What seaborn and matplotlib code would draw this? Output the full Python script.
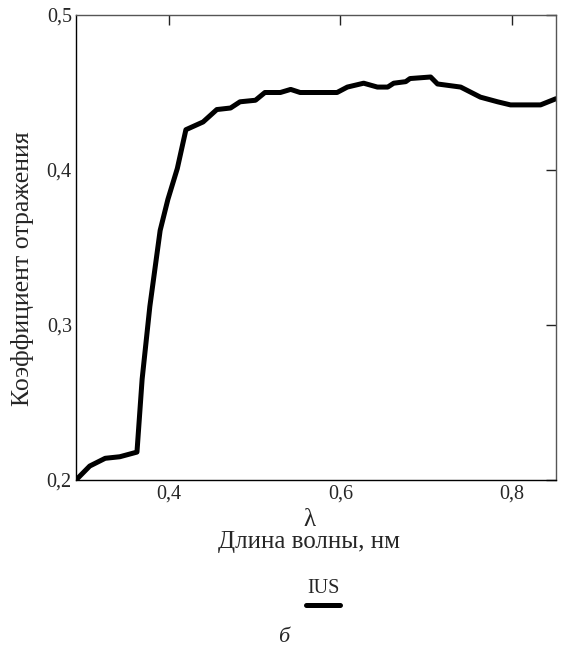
"""
Reflectance spectrum of IUS sample
"""
import matplotlib
matplotlib.use('Agg')
import matplotlib.pyplot as plt
import seaborn as sns
import pandas as pd

# wavelength (um) and reflectance
wavelength = [0.292, 0.308, 0.326, 0.343, 0.363, 0.369, 0.378, 0.390, 0.399,
              0.410, 0.420, 0.440, 0.456, 0.472, 0.483, 0.501, 0.512, 0.530,
              0.542, 0.553, 0.596, 0.608, 0.627, 0.643, 0.655, 0.662, 0.676,
              0.681, 0.705, 0.713, 0.740, 0.763, 0.783, 0.798, 0.833, 0.851]
reflectance = [0.200, 0.209, 0.214, 0.215, 0.218, 0.265, 0.312, 0.361, 0.381,
               0.401, 0.426, 0.431, 0.439, 0.440, 0.444, 0.445, 0.450, 0.450,
               0.452, 0.450, 0.450, 0.4535, 0.456, 0.4535, 0.4535, 0.456, 0.457,
               0.459, 0.460, 0.4555, 0.4535, 0.447, 0.444, 0.442, 0.442, 0.446]
series_name = 'IUS'

x_ticks = [0.4, 0.6, 0.8]
x_ticklabels = ['0,4', '0,6', '0,8']
y_ticks = [0.2, 0.3, 0.4, 0.5]
y_ticklabels = ['0,2', '0,3', '0,4', '0,5']

df = pd.DataFrame({'wl': wavelength, 'r': reflectance, 'sample': series_name})

sns.set_style('white')
plt.rcParams['font.family'] = ['Liberation Serif', 'DejaVu Serif']
plt.rcParams['font.size'] = 14

fig = plt.figure(figsize=(5.67, 6.53), dpi=100)
ax = fig.add_axes([76 / 567, 1 - 480 / 653, 480 / 567, 465 / 653])

sns.lineplot(data=df, x='wl', y='r', color='black', linewidth=3.6,
             legend=False, ax=ax)

ax.set_xlim(0.292, 0.851)
ax.set_ylim(0.2, 0.5)
ax.set_xticks(x_ticks)
ax.set_xticklabels(x_ticklabels)
ax.set_yticks(y_ticks)
ax.set_yticklabels(y_ticklabels)
ax.tick_params(direction='in', length=7, width=1, color='#222222',
               top=True, right=True, labelsize=14.5, pad=3)

for side in ['left', 'bottom']:
    ax.spines[side].set_color('black')
    ax.spines[side].set_linewidth(1.0)
for side in ['top', 'right']:
    ax.spines[side].set_color('#555555')
    ax.spines[side].set_linewidth(1.0)

ax.set_xlabel('λ\nДлина волны, нм', fontsize=18, linespacing=1.0)
ax.xaxis.set_label_coords((309 - 76) / 480, -0.062)
ax.set_ylabel('Коэффициент отражения', fontsize=18.5)
ax.yaxis.set_label_coords((34 - 76) / 480, 0.455)

handle = ax.get_lines()[0]
leg = fig.legend([handle], [''], title=series_name, loc='center',
                 bbox_to_anchor=(323 / 567, 1 - 597 / 653), frameon=False,
                 handlelength=1.7, handletextpad=0, borderpad=0,
                 labelspacing=0.0, handleheight=0.4, title_fontsize=14.5)
leg._legend_box.sep = 0

fig.text(0.5, 1 - 637 / 653, 'б', ha='center', va='center',
         fontsize=16, style='italic')

fig.savefig('out.png', dpi=100, facecolor='white')
plt.close(fig)
